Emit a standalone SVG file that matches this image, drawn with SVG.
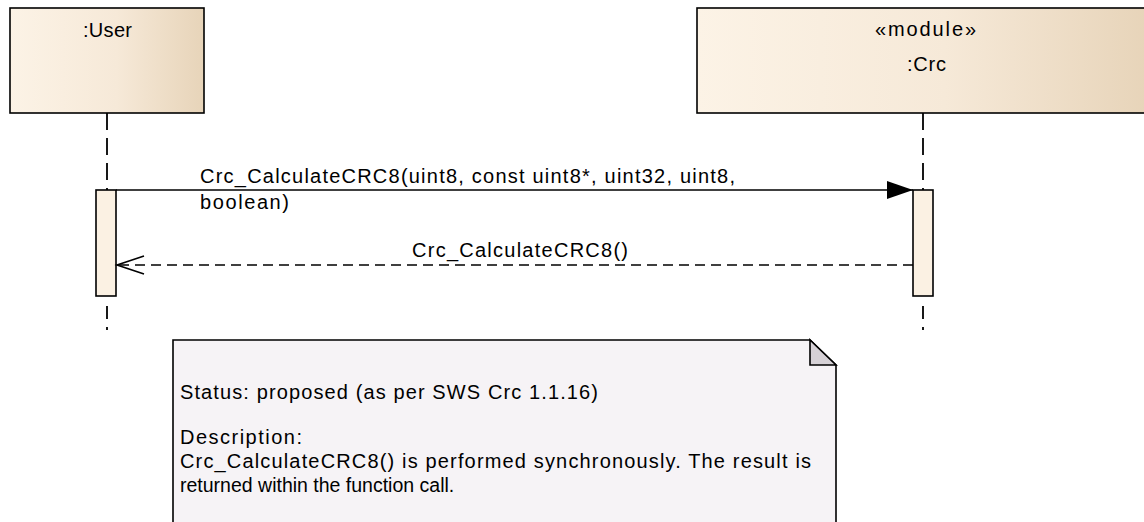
<svg xmlns="http://www.w3.org/2000/svg" width="1144" height="522" viewBox="0 0 1144 522">
  <style>
    text { font-family: "Liberation Sans", Arial, sans-serif; font-size: 20px; fill: #000; }
    .head { stroke: #000; stroke-width: 1.6; fill: url(#headGrad); }
    .act { stroke: #000; stroke-width: 1.6; fill: #FBF1E3; }
    .life { stroke: #000; stroke-width: 1.8; fill: none; }
    .msg { stroke: #000; stroke-width: 1.6; fill: none; }
    .ret { stroke: #000; stroke-width: 1.6; fill: none; stroke-dasharray: 10 6; }
    .note { stroke: #000; stroke-width: 1.6; fill: #F6F3F6; }
    .fold { stroke: #000; stroke-width: 1.6; fill: #D6D1D6; }
  </style>
  <defs>
    <linearGradient id="headGrad" x1="0" y1="0" x2="1" y2="0">
      <stop offset="0" stop-color="#FCF3E6"/>
      <stop offset="0.55" stop-color="#F6E9D8"/>
      <stop offset="1" stop-color="#E7D4B9"/>
    </linearGradient>
    <marker id="filled" markerUnits="userSpaceOnUse" markerWidth="28" markerHeight="20" refX="26" refY="9" orient="auto" overflow="visible">
      <path d="M0,0 L26,9 L0,18 Z" fill="#000"/>
    </marker>
    <marker id="open" markerUnits="userSpaceOnUse" markerWidth="30" markerHeight="20" refX="27" refY="9" orient="auto" overflow="visible">
      <path d="M0,0 L27,9 L0,18" fill="none" stroke="#000" stroke-width="1.6"/>
    </marker>
  </defs>
  <rect width="1144" height="522" fill="#FFFFFF"/>

  <g id="lifelines">
    <line class="life" x1="107" y1="113" x2="107" y2="190" stroke-dasharray="17 8"/>
    <line class="life" x1="107" y1="306" x2="107" y2="330" stroke-dasharray="13 8"/>
    <line class="life" x1="923" y1="113" x2="923" y2="190" stroke-dasharray="17 8"/>
    <line class="life" x1="923" y1="306" x2="923" y2="330" stroke-dasharray="13 8"/>
  </g>

  <g id="user">
    <rect class="head" x="10" y="8" width="194" height="105"/>
    <text x="83" y="37" textLength="49" lengthAdjust="spacing">:User</text>
    <rect class="act" x="96" y="190" width="20" height="106"/>
  </g>

  <g id="crc">
    <rect class="head" x="697" y="8" width="452" height="105"/>
    <text x="875" y="36" textLength="101" lengthAdjust="spacing">«module»</text>
    <text x="907" y="71" textLength="39" lengthAdjust="spacing">:Crc</text>
    <rect class="act" x="913" y="190" width="20" height="106"/>
  </g>

  <g id="connectors">
    <line class="msg" x1="116" y1="190" x2="913" y2="190" marker-end="url(#filled)"/>
    <rect x="199" y="191" width="92" height="22" fill="#FFFFFF"/>
    <text x="200" y="183" textLength="535" lengthAdjust="spacing">Crc_CalculateCRC8(uint8, const uint8*, uint32, uint8,</text>
    <text x="200" y="209" textLength="89" lengthAdjust="spacing">boolean)</text>
    <line class="ret" x1="913" y1="265" x2="117" y2="265" marker-end="url(#open)"/>
    <text x="412" y="257" textLength="216" lengthAdjust="spacing">Crc_CalculateCRC8()</text>
  </g>

  <g id="note">
    <path class="note" d="M173,340 L810,340 L836,365 L836,530 L173,530 Z"/>
    <path class="fold" d="M810,340 L810,365 L836,365 Z"/>
    <text x="180" y="399" textLength="418" lengthAdjust="spacing">Status: proposed (as per SWS Crc 1.1.16)</text>
    <text x="180" y="444" textLength="122" lengthAdjust="spacing">Description:</text>
    <text x="180" y="468" textLength="631" lengthAdjust="spacing">Crc_CalculateCRC8() is performed synchronously. The result is</text>
    <text x="180" y="492" style="font-size:19.5px">returned within the function call.</text>
  </g>
</svg>
